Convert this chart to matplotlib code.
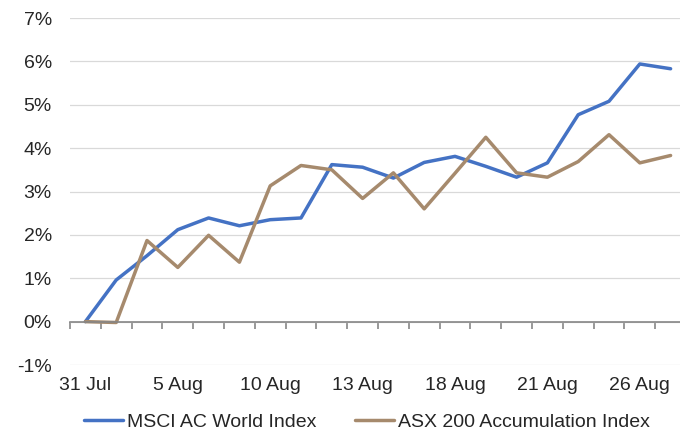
import matplotlib
matplotlib.use('Agg')
import matplotlib.pyplot as plt
import numpy as np

plt.rcParams['font.family'] = ['Liberation Sans', 'DejaVu Sans']

# 20 trading-day categories, label on every third one
tick_labels = ['31 Jul', '5 Aug', '10 Aug', '13 Aug', '18 Aug', '21 Aug', '26 Aug']
label_step = 3

msci = [0.00, 0.96, 1.52, 2.12, 2.39, 2.21, 2.35, 2.39, 3.62, 3.56,
        3.31, 3.67, 3.81, 3.58, 3.33, 3.66, 4.77, 5.08, 5.94, 5.83]
asx = [0.00, -0.02, 1.87, 1.25, 1.99, 1.37, 3.13, 3.60, 3.50, 2.84,
       3.43, 2.60, 3.42, 4.25, 3.43, 3.33, 3.69, 4.31, 3.66, 3.83]

names = ['MSCI AC World Index', 'ASX 200 Accumulation Index']
colors = ['#4472C4', '#A68A6D']
text_color = '#262626'
fs = 14

fig = plt.figure(figsize=(6.8, 4.32), dpi=100)
ax = fig.add_axes([70 / 680, (432 - 365) / 432, 616 / 680, 347 / 432])

x = np.arange(len(msci))
ax.plot(x, msci, color=colors[0], lw=2.5, label=names[0], solid_capstyle='round')
ax.plot(x, asx, color=colors[1], lw=2.5, label=names[1], solid_capstyle='round')

ax.set_xlim(-0.5, len(msci) - 0.5)
ax.set_ylim(-1, 7)
ax.set_yticks(range(-1, 8))
ax.set_yticklabels([f'{v}%' for v in range(-1, 8)], fontsize=fs, color=text_color)
ax.yaxis.grid(True, color='#D9D9D9', lw=0.9)
ax.set_axisbelow(True)
ax.tick_params(axis='y', length=0, pad=13)

for s in ['top', 'right', 'left']:
    ax.spines[s].set_visible(False)
ax.spines['bottom'].set_position(('data', 0))
ax.spines['bottom'].set_color('#868686')
ax.spines['bottom'].set_linewidth(1.2)

# tick marks at category boundaries, labels placed below the plot
ax.set_xticks(np.arange(-0.5, len(msci), 1))
ax.set_xticklabels([])
ax.tick_params(axis='x', length=5, width=1.2, color='#868686', direction='out')
for i, lab in enumerate(tick_labels):
    ax.text(i * label_step, -0.036, lab, transform=ax.get_xaxis_transform(),
            ha='center', va='top', fontsize=fs, color=text_color)

fig.legend(loc='center', ncol=2, bbox_to_anchor=(367 / 680, 1 - 422 / 432),
           frameon=False, fontsize=fs, handlelength=2.0, columnspacing=2.0,
           handletextpad=0.2, labelcolor=text_color)

fig.savefig('out.png', dpi=100)
